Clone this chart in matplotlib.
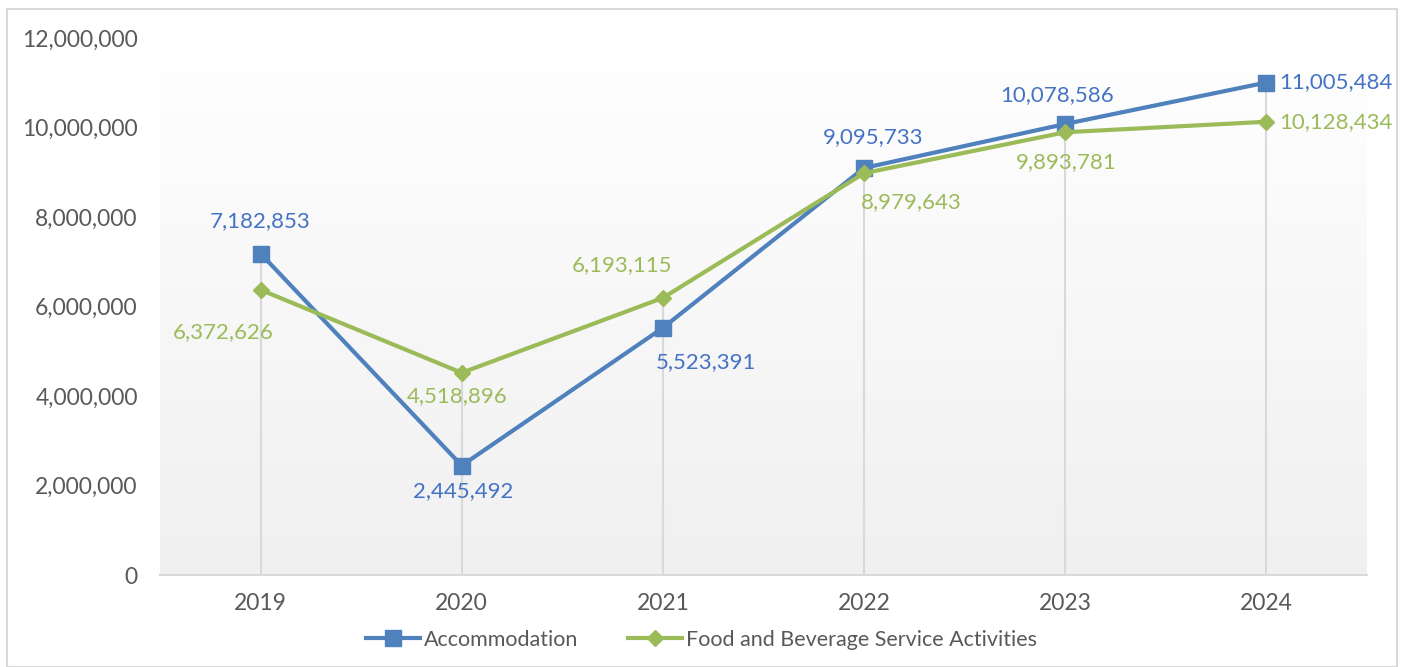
import numpy as np
import matplotlib.pyplot as plt
from matplotlib.patches import Rectangle
from matplotlib.ticker import FuncFormatter

years = ['2019', '2020', '2021', '2022', '2023', '2024']
accommodation = [7182853, 2445492, 5523391, 9095733, 10078586, 11005484]
food_beverage = [6372626, 4518896, 6193115, 8979643, 9893781, 10128434]

# label offsets in pixels (dx, dy), alignment
acc_offsets = [(0, 32, 'center'), (1, -26, 'center'), (43, -34, 'center'),
               (9, 31, 'center'), (-8, 29, 'center'), (13, 0, 'left')]
food_offsets = [(-37, -42, 'center'), (-5, -23, 'center'), (-41, 33, 'center'),
                (47, -29, 'center'), (1, -30, 'center'), (13, 0, 'left')]

plt.rcParams['font.family'] = ['Lato', 'DejaVu Sans']

blue = '#4F81BD'
green = '#9BBB59'
blue_txt = '#4472C4'
green_txt = '#9BBB59'
grey_txt = '#595959'
fs = 16.5

fig = plt.figure(figsize=(14.03, 6.67), dpi=100)
ax = fig.add_axes([160 / 1403, 1 - 575 / 667, (1367 - 160) / 1403, (575 - 38) / 667])

x = np.arange(len(years))
ax.set_xlim(-0.5, len(years) - 0.5)
ax.set_ylim(0, 12000000)

# gradient plot area
grad = np.linspace(0, 1, 256).reshape(-1, 1)
ax.imshow(grad, extent=(-0.5, len(years) - 0.5, 0, 12000000), aspect='auto',
          cmap=plt.matplotlib.colors.LinearSegmentedColormap.from_list('g', ['#f0f0f0', '#ffffff']),
          origin='lower', zorder=0)

# drop lines
tops = np.maximum(accommodation, food_beverage)
ax.vlines(x, 0, tops, color='#d9d9d9', lw=1.5, zorder=1)

ax.plot(x, accommodation, color=blue, lw=3, marker='s', ms=11, zorder=3,
        label='Accommodation')
ax.plot(x, food_beverage, color=green, lw=3, marker='D', ms=8.5, zorder=4,
        label='Food and Beverage Service Activities')

for xi, v, (dx, dy, ha) in zip(x, accommodation, acc_offsets):
    ax.annotate(f'{v:,}', (xi, v), xytext=(dx, dy), textcoords='offset pixels',
                ha=ha, va='center', color=blue_txt, fontsize=16, zorder=5,
                annotation_clip=False, clip_on=False)
for xi, v, (dx, dy, ha) in zip(x, food_beverage, food_offsets):
    ax.annotate(f'{v:,}', (xi, v), xytext=(dx, dy), textcoords='offset pixels',
                ha=ha, va='center', color=green_txt, fontsize=16, zorder=5,
                annotation_clip=False, clip_on=False)

ax.set_xticks(x)
ax.set_xticklabels(years)
ax.set_yticks(np.arange(0, 12000001, 2000000))
ax.yaxis.set_major_formatter(FuncFormatter(lambda v, p: f'{int(v):,}'))
ax.tick_params(axis='both', length=0, labelsize=fs, labelcolor=grey_txt)
ax.tick_params(axis='y', pad=16)
ax.tick_params(axis='x', pad=13)

for s in ['top', 'right', 'left']:
    ax.spines[s].set_visible(False)
ax.spines['bottom'].set_color('#d9d9d9')
ax.spines['bottom'].set_linewidth(1.5)

leg = fig.legend(loc='center', bbox_to_anchor=(0.5, 1 - 640 / 667), ncol=2,
                 frameon=False, fontsize=15.5, handlelength=2.5, columnspacing=2.3,
                 handletextpad=0.2)
for t in leg.get_texts():
    t.set_color(grey_txt)

# outer chart border
fig.patches.append(Rectangle((7 / 1403, 0), 1390 / 1403, 1 - 9 / 667,
                             transform=fig.transFigure, fill=False,
                             edgecolor='#d9d9d9', lw=1.5))

fig.savefig('out.png', dpi=100)
